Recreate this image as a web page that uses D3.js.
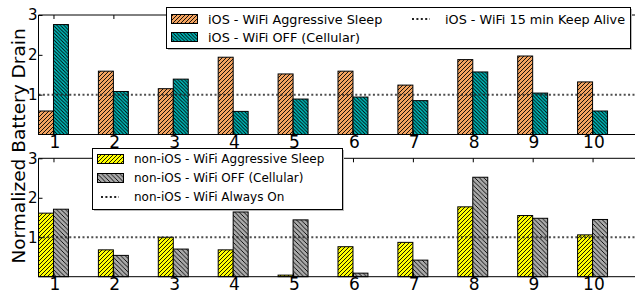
<!DOCTYPE html>
<html>
<head>
<meta charset="utf-8">
<script src="https://d3js.org/d3.v7.min.js"></script>
<style>
  body { margin: 0; background: #fff; }
  svg { font-family: "DejaVu Sans", sans-serif; }
</style>
</head>
<body>
<div id="chart"></div>
<script>
// apps 1..10
var apps = [1, 2, 3, 4, 5, 6, 7, 8, 9, 10];
var yTicks = [1, 2, 3];

// iOS panel
var iosSleep = [0.59, 1.59, 1.15, 1.94, 1.52, 1.59, 1.24, 1.88, 1.97, 1.32];
var iosOff   = [2.76, 1.08, 1.39, 0.58, 0.89, 0.94, 0.85, 1.57, 1.04, 0.59];
var iosRef = 1;

// non-iOS panel
var andSleep = [1.61, 0.68, 1.00, 0.68, 0.04, 0.76, 0.87, 1.77, 1.55, 1.06];
var andOff   = [1.71, 0.54, 0.70, 1.64, 1.44, 0.09, 0.42, 2.52, 1.48, 1.45];
var andRef = 1;

var W = 635, H = 293;
var svg = d3.select("#chart").append("svg")
  .attr("width", W).attr("height", H);

// hatch patterns
var defs = svg.append("defs");
function hatch(id, color, spacing, dir) {
  var p = defs.append("pattern")
    .attr("id", id)
    .attr("patternUnits", "userSpaceOnUse")
    .attr("width", spacing).attr("height", spacing);
  p.append("rect").attr("width", spacing).attr("height", spacing).attr("fill", color);
  var d = dir > 0
    ? "M0," + spacing + " L" + spacing + ",0 M-1,1 L1,-1 M" + (spacing - 1) + "," + (spacing + 1) + " L" + (spacing + 1) + "," + (spacing - 1)
    : "M0,0 L" + spacing + "," + spacing + " M-1," + (spacing - 1) + " L1," + (spacing + 1) + " M" + (spacing - 1) + ",-1 L" + (spacing + 1) + ",1";
  p.append("path").attr("d", d).attr("stroke", "#000").attr("stroke-width", 0.9);
}
hatch("hOrange", "#f4a460", 4, 1);
hatch("hTeal", "#00c0c0", 3.5, -1);
hatch("hYellow", "#ffff00", 4, 1);
hatch("hGray", "#a9a9a9", 4.5, -1);

var x = d3.scaleLinear().domain([0.75, 10.75]).range([38.5, 637.5]);
var barW = 0.25;

function panel(top, bottom, sleep, off, ref, fillA, fillB) {
  var y = d3.scaleLinear().domain([0, 3]).range([bottom, top]);
  var g = svg.append("g");

  // bars
  g.selectAll(".a").data(apps).enter().append("rect")
    .attr("x", function (d) { return x(d - barW); })
    .attr("width", x(barW) - x(0))
    .attr("y", function (d, i) { return y(sleep[i]); })
    .attr("height", function (d, i) { return y(0) - y(sleep[i]); })
    .attr("fill", "url(#" + fillA + ")")
    .attr("stroke", "#000").attr("stroke-width", 1);
  g.selectAll(".b").data(apps).enter().append("rect")
    .attr("x", function (d) { return x(d); })
    .attr("width", x(barW) - x(0))
    .attr("y", function (d, i) { return y(off[i]); })
    .attr("height", function (d, i) { return y(0) - y(off[i]); })
    .attr("fill", "url(#" + fillB + ")")
    .attr("stroke", "#000").attr("stroke-width", 1);

  // reference line
  g.append("line")
    .attr("x1", x(0.75)).attr("x2", W)
    .attr("y1", y(ref)).attr("y2", y(ref))
    .attr("stroke", "#222").attr("stroke-width", 2)
    .attr("stroke-dasharray", "2,2.4").attr("opacity", 0.8);

  // spines
  g.append("path")
    .attr("d", "M" + W + "," + top + " H" + x(0.75) + " V" + bottom + " H" + W)
    .attr("fill", "none").attr("stroke", "#000").attr("stroke-width", 1);

  // y axis (inward ticks)
  var ya = g.append("g").attr("transform", "translate(" + x(0.75) + ",0)")
    .call(d3.axisLeft(y).tickValues(yTicks).tickFormat(d3.format("d")).tickSize(-4).tickPadding(1));
  ya.select(".domain").remove();
  ya.selectAll("text").attr("font-size", 15).attr("font-family", "DejaVu Sans").attr("fill", "#000");

  // x axis bottom
  var xa = g.append("g").attr("transform", "translate(0," + bottom + ")")
    .call(d3.axisBottom(x).tickValues(apps).tickFormat(d3.format("d")).tickSize(-4).tickPadding(2));
  xa.select(".domain").remove();
  xa.selectAll("text").attr("font-size", 17).attr("font-family", "DejaVu Sans").attr("fill", "#000")
    .attr("y", 1).attr("dx", "0.05em");
  // x ticks top
  var xt = g.append("g").attr("transform", "translate(0," + top + ")")
    .call(d3.axisTop(x).tickValues(apps).tickSize(-4).tickFormat(""));
  xt.select(".domain").remove();
  return y;
}

panel(15, 134.5, iosSleep, iosOff, iosRef, "hOrange", "hTeal");
panel(158.3, 276.7, andSleep, andOff, andRef, "hYellow", "hGray");

// legends
function legendBox(x0, y0, w, h) {
  svg.append("rect").attr("x", x0 + 1.5).attr("y", y0 + 1.5).attr("width", w).attr("height", h)
    .attr("fill", "#bbb");
  svg.append("rect").attr("x", x0).attr("y", y0).attr("width", w).attr("height", h)
    .attr("fill", "#fff").attr("stroke", "#000").attr("stroke-width", 1);
}
function legPatch(x0, cy, fill) {
  svg.append("rect").attr("x", x0).attr("y", cy - 4.5).attr("width", 26).attr("height", 9)
    .attr("fill", "url(#" + fill + ")").attr("stroke", "#000").attr("stroke-width", 1);
}
function legLine(x0, cy) {
  svg.append("line").attr("x1", x0).attr("x2", x0 + 18).attr("y1", cy).attr("y2", cy)
    .attr("stroke", "#222").attr("stroke-width", 2).attr("stroke-dasharray", "2,2.4");
}
function legText(x0, cy, t, fs) {
  svg.append("text").attr("x", x0).attr("y", cy + fs * 0.37).attr("font-size", fs).attr("fill", "#000").text(t);
}

legendBox(166.5, 7.5, 464, 41);
legPatch(171.5, 19, "hOrange"); legText(208, 19, "iOS - WiFi Aggressive Sleep", 12.8);
legPatch(171.5, 37, "hTeal");   legText(208, 37, "iOS - WiFi OFF (Cellular)", 12.8);
legLine(412, 19);               legText(445, 19, "iOS - WiFi 15 min Keep Alive", 12.8);

legendBox(92.5, 148.5, 250, 61);
legPatch(97.5, 159, "hYellow"); legText(134, 159, "non-iOS - WiFi Aggressive Sleep", 12);
legPatch(97.5, 178, "hGray");   legText(134, 178, "non-iOS - WiFi OFF (Cellular)", 12);
legLine(101, 197);              legText(134, 197, "non-iOS - WiFi Always On", 12);

// y label
svg.append("text")
  .attr("transform", "translate(24.5,146) rotate(-90)")
  .attr("text-anchor", "middle")
  .attr("font-size", 18.5).attr("fill", "#000")
  .text("Normalized Battery Drain");
</script>
</body>
</html>
